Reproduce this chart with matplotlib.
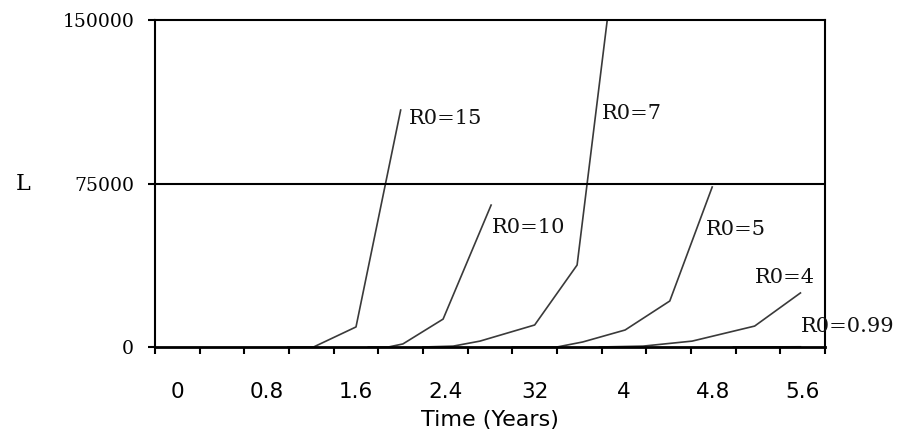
import matplotlib
matplotlib.use("Agg")
import matplotlib.pyplot as plt
from matplotlib.ticker import FixedLocator, FixedFormatter

# time (years) and L values, one pair of lists per R0 run
t_r15 = [1.19, 1.42, 1.80, 2.20]
l_r15 = [0, 0, 9200, 108700]

t_r10 = [1.91, 2.09, 2.22, 2.58, 3.01]
l_r10 = [0, 0, 1400, 12800, 65100]

t_r7 = [2.40, 2.67, 2.91, 3.40, 3.78, 4.05]
l_r7 = [0, 400, 2700, 10100, 37600, 150000]

t_r5 = [3.20, 3.60, 3.83, 4.21, 4.61, 4.99]
l_r5 = [0, 0, 2300, 7800, 21100, 73400]

t_r4 = [3.98, 4.37, 4.81, 5.37, 5.78]
l_r4 = [0, 400, 2700, 9600, 24800]

t_r099 = [5.18, 5.78]
l_r099 = [0, 100]

labels = ["R0=15", "R0=10", "R0=7", "R0=5", "R0=4", "R0=0.99"]
label_pos = [(2.27, 105000), (3.02, 54600), (4.00, 107300),
             (4.93, 54100), (5.37, 32100), (5.78, 9200)]

x_tick_labels = ["0", "0.8", "1.6", "2.4", "32", "4", "4.8", "5.6"]
y_ticks = [0, 75000, 150000]

fig = plt.figure(figsize=(9.01, 4.36), dpi=100)
ax = fig.add_axes([155 / 901, 1 - 347 / 436, 670 / 901, 327 / 436])

series = [(t_r15, l_r15), (t_r10, l_r10), (t_r7, l_r7),
          (t_r5, l_r5), (t_r4, l_r4), (t_r099, l_r099)]
for t, l in series:
    ax.plot(t, l, color="#3a3a3a", lw=1.2, zorder=1.5)

for txt, (x, y) in zip(labels, label_pos):
    ax.text(x, y, txt, family="DejaVu Serif", fontsize=15, va="center",
            ha="left", color="#111111", clip_on=False)

ax.axhline(75000, color="black", lw=1.5, zorder=2)

ax.set_xlim(0, 6)
ax.set_ylim(0, 150000)
for s in ax.spines.values():
    s.set_linewidth(1.5)
ax.spines["bottom"].set_linewidth(2)

# plain ticks every 0.4, labels sit between them every 0.8
ax.xaxis.set_major_locator(FixedLocator([i * 0.4 for i in range(16)]))
ax.xaxis.set_major_formatter(FixedFormatter([""] * 16))
ax.xaxis.set_minor_locator(FixedLocator([0.2 + 0.8 * i for i in range(8)]))
ax.xaxis.set_minor_formatter(FixedFormatter(x_tick_labels))
ax.tick_params(axis="x", which="major", direction="out", length=5, width=1.5)
ax.tick_params(axis="x", which="minor", length=0, pad=25, labelsize=15.5)
for lab in ax.get_xticklabels(minor=True):
    lab.set_family("DejaVu Sans")

ax.set_yticks(y_ticks)
ax.set_yticklabels([str(v) for v in y_ticks], family="DejaVu Serif")
ax.tick_params(axis="y", direction="out", length=5, width=1.5, pad=10,
               labelsize=13.5)

ax.set_xlabel("Time (Years)", fontsize=16, family="DejaVu Sans", labelpad=6)
ax.set_ylabel("L", rotation=0, fontsize=16, family="DejaVu Serif",
              va="center", ha="center")
ax.yaxis.set_label_coords(-0.197, 0.50)

fig.savefig("out.png", dpi=100)
